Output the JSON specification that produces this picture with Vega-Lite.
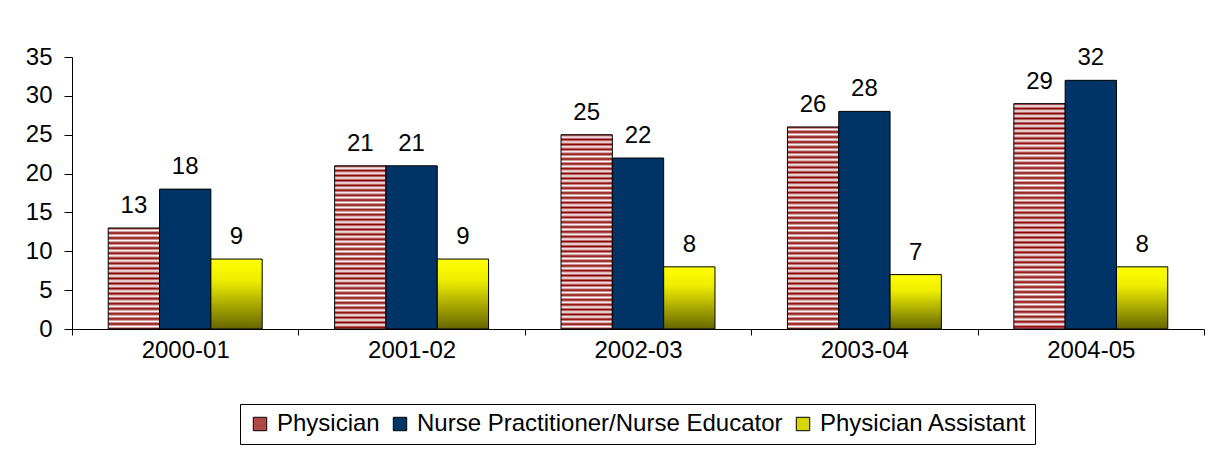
{
  "$schema": "https://vega.github.io/schema/vega-lite/v6.json",
  "width": 1132,
  "height": 272,
  "autosize": {"type": "none"},
  "padding": {"left": 72, "top": 57, "right": 21, "bottom": 121},
  "background": "white",
  "config": {
    "font": "Liberation Sans",
    "view": {"stroke": null},
    "axis": {"domainColor": "black", "tickColor": "black", "labelColor": "black", "labelFontSize": 24, "labelFont": "Liberation Sans", "grid": false, "title": null}
  },
  "data": {"values": [
    {"year": "2000-01", "series": "Physician", "value": 13},
    {"year": "2000-01", "series": "Nurse Practitioner/Nurse Educator", "value": 18},
    {"year": "2000-01", "series": "Physician Assistant", "value": 9},
    {"year": "2001-02", "series": "Physician", "value": 21},
    {"year": "2001-02", "series": "Nurse Practitioner/Nurse Educator", "value": 21},
    {"year": "2001-02", "series": "Physician Assistant", "value": 9},
    {"year": "2002-03", "series": "Physician", "value": 25},
    {"year": "2002-03", "series": "Nurse Practitioner/Nurse Educator", "value": 22},
    {"year": "2002-03", "series": "Physician Assistant", "value": 8},
    {"year": "2003-04", "series": "Physician", "value": 26},
    {"year": "2003-04", "series": "Nurse Practitioner/Nurse Educator", "value": 28},
    {"year": "2003-04", "series": "Physician Assistant", "value": 7},
    {"year": "2004-05", "series": "Physician", "value": 29},
    {"year": "2004-05", "series": "Nurse Practitioner/Nurse Educator", "value": 32},
    {"year": "2004-05", "series": "Physician Assistant", "value": 8}
  ]},
  "encoding": {
    "x": {"field": "year", "type": "nominal", "scale": {"paddingInner": 0, "paddingOuter": 0},
      "axis": {"labelAngle": 0, "tickSize": 6, "tickBand": "extent", "labelPadding": 3}},
    "xOffset": {"field": "series", "type": "nominal", "sort": ["Physician", "Nurse Practitioner/Nurse Educator", "Physician Assistant"], "scale": {"paddingInner": 0, "paddingOuter": 0.706}},
    "y": {"field": "value", "type": "quantitative", "scale": {"domain": [0, 35]},
      "axis": {"values": [0, 5, 10, 15, 20, 25, 30, 35], "tickSize": 8, "labelPadding": 12}}
  },
  "layer": [
    {
      "mark": {"type": "bar", "stroke": "black", "strokeWidth": 1},
      "encoding": {
        "fill": {
          "field": "series", "type": "nominal",
          "scale": {"domain": ["Physician", "Nurse Practitioner/Nurse Educator", "Physician Assistant"], "range": ["#b04848", "#003366", "#d6d600"]},
          "legend": {
            "orient": "none", "legendX": 168, "legendY": 347, "direction": "horizontal", "title": null,
            "strokeColor": "black", "padding": 8, "labelFontSize": 24, "labelFont": "Liberation Sans", "labelColor": "black", "labelLimit": 0,
            "symbolType": "square", "symbolSize": 180, "symbolStrokeColor": "black", "symbolStrokeWidth": 1,
            "columnPadding": 8, "labelOffset": 5
          },
          "condition": [
            {"test": "datum.series === 'Physician Assistant'", "value": {"gradient": "linear", "x1": 0, "y1": 0, "x2": 0, "y2": 1, "stops": [{"offset": 0, "color": "#ffff00"}, {"offset": 0.3, "color": "#eeee00"}, {"offset": 1, "color": "#666600"}]}},
            {"test": "datum.series === 'Physician' && datum.value < 16", "value": {"gradient": "linear", "x1": 0, "y1": 0, "x2": 0, "y2": 1, "stops": [{"offset":0,"color":"#800"},{"offset":0.025,"color":"#fff"},{"offset":0.05,"color":"#800"},{"offset":0.075,"color":"#fff"},{"offset":0.1,"color":"#800"},{"offset":0.125,"color":"#fff"},{"offset":0.15,"color":"#800"},{"offset":0.175,"color":"#fff"},{"offset":0.2,"color":"#800"},{"offset":0.225,"color":"#fff"},{"offset":0.25,"color":"#800"},{"offset":0.275,"color":"#fff"},{"offset":0.3,"color":"#800"},{"offset":0.325,"color":"#fff"},{"offset":0.35,"color":"#800"},{"offset":0.375,"color":"#fff"},{"offset":0.4,"color":"#800"},{"offset":0.425,"color":"#fff"},{"offset":0.45,"color":"#800"},{"offset":0.475,"color":"#fff"},{"offset":0.5,"color":"#800"},{"offset":0.525,"color":"#fff"},{"offset":0.55,"color":"#800"},{"offset":0.575,"color":"#fff"},{"offset":0.6,"color":"#800"},{"offset":0.625,"color":"#fff"},{"offset":0.65,"color":"#800"},{"offset":0.675,"color":"#fff"},{"offset":0.7,"color":"#800"},{"offset":0.725,"color":"#fff"},{"offset":0.75,"color":"#800"},{"offset":0.775,"color":"#fff"},{"offset":0.8,"color":"#800"},{"offset":0.825,"color":"#fff"},{"offset":0.85,"color":"#800"},{"offset":0.875,"color":"#fff"},{"offset":0.9,"color":"#800"},{"offset":0.925,"color":"#fff"},{"offset":0.95,"color":"#800"},{"offset":0.975,"color":"#fff"},{"offset":1,"color":"#800"}]}},
            {"test": "datum.series === 'Physician' && datum.value < 23", "value": {"gradient": "linear", "x1": 0, "y1": 0, "x2": 0, "y2": 1, "stops": [{"offset":0,"color":"#800"},{"offset":0.015,"color":"#fff"},{"offset":0.03,"color":"#800"},{"offset":0.045,"color":"#fff"},{"offset":0.06,"color":"#800"},{"offset":0.075,"color":"#fff"},{"offset":0.09,"color":"#800"},{"offset":0.105,"color":"#fff"},{"offset":0.12,"color":"#800"},{"offset":0.135,"color":"#fff"},{"offset":0.15,"color":"#800"},{"offset":0.165,"color":"#fff"},{"offset":0.18,"color":"#800"},{"offset":0.195,"color":"#fff"},{"offset":0.21,"color":"#800"},{"offset":0.225,"color":"#fff"},{"offset":0.24,"color":"#800"},{"offset":0.255,"color":"#fff"},{"offset":0.27,"color":"#800"},{"offset":0.285,"color":"#fff"},{"offset":0.3,"color":"#800"},{"offset":0.315,"color":"#fff"},{"offset":0.33,"color":"#800"},{"offset":0.345,"color":"#fff"},{"offset":0.36,"color":"#800"},{"offset":0.375,"color":"#fff"},{"offset":0.39,"color":"#800"},{"offset":0.405,"color":"#fff"},{"offset":0.42,"color":"#800"},{"offset":0.435,"color":"#fff"},{"offset":0.45,"color":"#800"},{"offset":0.465,"color":"#fff"},{"offset":0.48,"color":"#800"},{"offset":0.495,"color":"#fff"},{"offset":0.51,"color":"#800"},{"offset":0.525,"color":"#fff"},{"offset":0.54,"color":"#800"},{"offset":0.555,"color":"#fff"},{"offset":0.57,"color":"#800"},{"offset":0.585,"color":"#fff"},{"offset":0.6,"color":"#800"},{"offset":0.615,"color":"#fff"},{"offset":0.63,"color":"#800"},{"offset":0.645,"color":"#fff"},{"offset":0.66,"color":"#800"},{"offset":0.675,"color":"#fff"},{"offset":0.69,"color":"#800"},{"offset":0.705,"color":"#fff"},{"offset":0.72,"color":"#800"},{"offset":0.735,"color":"#fff"},{"offset":0.75,"color":"#800"},{"offset":0.765,"color":"#fff"},{"offset":0.78,"color":"#800"},{"offset":0.795,"color":"#fff"},{"offset":0.81,"color":"#800"},{"offset":0.825,"color":"#fff"},{"offset":0.84,"color":"#800"},{"offset":0.855,"color":"#fff"},{"offset":0.87,"color":"#800"},{"offset":0.885,"color":"#fff"},{"offset":0.9,"color":"#800"},{"offset":0.915,"color":"#fff"},{"offset":0.93,"color":"#800"},{"offset":0.945,"color":"#fff"},{"offset":0.96,"color":"#800"},{"offset":0.975,"color":"#fff"},{"offset":0.99,"color":"#800"},{"offset":1,"color":"#f88"}]}},
            {"test": "datum.series === 'Physician' && datum.value < 27", "value": {"gradient": "linear", "x1": 0, "y1": 0, "x2": 0, "y2": 1, "stops": [{"offset":0,"color":"#800"},{"offset":0.0125,"color":"#fff"},{"offset":0.025,"color":"#800"},{"offset":0.0375,"color":"#fff"},{"offset":0.05,"color":"#800"},{"offset":0.0625,"color":"#fff"},{"offset":0.075,"color":"#800"},{"offset":0.0875,"color":"#fff"},{"offset":0.1,"color":"#800"},{"offset":0.1125,"color":"#fff"},{"offset":0.125,"color":"#800"},{"offset":0.1375,"color":"#fff"},{"offset":0.15,"color":"#800"},{"offset":0.1625,"color":"#fff"},{"offset":0.175,"color":"#800"},{"offset":0.1875,"color":"#fff"},{"offset":0.2,"color":"#800"},{"offset":0.2125,"color":"#fff"},{"offset":0.225,"color":"#800"},{"offset":0.2375,"color":"#fff"},{"offset":0.25,"color":"#800"},{"offset":0.2625,"color":"#fff"},{"offset":0.275,"color":"#800"},{"offset":0.2875,"color":"#fff"},{"offset":0.3,"color":"#800"},{"offset":0.3125,"color":"#fff"},{"offset":0.325,"color":"#800"},{"offset":0.3375,"color":"#fff"},{"offset":0.35,"color":"#800"},{"offset":0.3625,"color":"#fff"},{"offset":0.375,"color":"#800"},{"offset":0.3875,"color":"#fff"},{"offset":0.4,"color":"#800"},{"offset":0.4125,"color":"#fff"},{"offset":0.425,"color":"#800"},{"offset":0.4375,"color":"#fff"},{"offset":0.45,"color":"#800"},{"offset":0.4625,"color":"#fff"},{"offset":0.475,"color":"#800"},{"offset":0.4875,"color":"#fff"},{"offset":0.5,"color":"#800"},{"offset":0.5125,"color":"#fff"},{"offset":0.525,"color":"#800"},{"offset":0.5375,"color":"#fff"},{"offset":0.55,"color":"#800"},{"offset":0.5625,"color":"#fff"},{"offset":0.575,"color":"#800"},{"offset":0.5875,"color":"#fff"},{"offset":0.6,"color":"#800"},{"offset":0.6125,"color":"#fff"},{"offset":0.625,"color":"#800"},{"offset":0.6375,"color":"#fff"},{"offset":0.65,"color":"#800"},{"offset":0.6625,"color":"#fff"},{"offset":0.675,"color":"#800"},{"offset":0.6875,"color":"#fff"},{"offset":0.7,"color":"#800"},{"offset":0.7125,"color":"#fff"},{"offset":0.725,"color":"#800"},{"offset":0.7375,"color":"#fff"},{"offset":0.75,"color":"#800"},{"offset":0.7625,"color":"#fff"},{"offset":0.775,"color":"#800"},{"offset":0.7875,"color":"#fff"},{"offset":0.8,"color":"#800"},{"offset":0.8125,"color":"#fff"},{"offset":0.825,"color":"#800"},{"offset":0.8375,"color":"#fff"},{"offset":0.85,"color":"#800"},{"offset":0.8625,"color":"#fff"},{"offset":0.875,"color":"#800"},{"offset":0.8875,"color":"#fff"},{"offset":0.9,"color":"#800"},{"offset":0.9125,"color":"#fff"},{"offset":0.925,"color":"#800"},{"offset":0.9375,"color":"#fff"},{"offset":0.95,"color":"#800"},{"offset":0.9625,"color":"#fff"},{"offset":0.975,"color":"#800"},{"offset":0.9875,"color":"#fff"},{"offset":1,"color":"#800"}]}},
            {"test": "datum.series === 'Physician'", "value": {"gradient": "linear", "x1": 0, "y1": 0, "x2": 0, "y2": 1, "stops": [{"offset":0,"color":"#800"},{"offset":0.011,"color":"#fff"},{"offset":0.022,"color":"#800"},{"offset":0.033,"color":"#fff"},{"offset":0.044,"color":"#800"},{"offset":0.055,"color":"#fff"},{"offset":0.066,"color":"#800"},{"offset":0.077,"color":"#fff"},{"offset":0.088,"color":"#800"},{"offset":0.099,"color":"#fff"},{"offset":0.11,"color":"#800"},{"offset":0.121,"color":"#fff"},{"offset":0.132,"color":"#800"},{"offset":0.143,"color":"#fff"},{"offset":0.154,"color":"#800"},{"offset":0.165,"color":"#fff"},{"offset":0.176,"color":"#800"},{"offset":0.187,"color":"#fff"},{"offset":0.198,"color":"#800"},{"offset":0.209,"color":"#fff"},{"offset":0.22,"color":"#800"},{"offset":0.231,"color":"#fff"},{"offset":0.242,"color":"#800"},{"offset":0.253,"color":"#fff"},{"offset":0.264,"color":"#800"},{"offset":0.275,"color":"#fff"},{"offset":0.286,"color":"#800"},{"offset":0.297,"color":"#fff"},{"offset":0.308,"color":"#800"},{"offset":0.319,"color":"#fff"},{"offset":0.33,"color":"#800"},{"offset":0.341,"color":"#fff"},{"offset":0.352,"color":"#800"},{"offset":0.363,"color":"#fff"},{"offset":0.374,"color":"#800"},{"offset":0.385,"color":"#fff"},{"offset":0.396,"color":"#800"},{"offset":0.407,"color":"#fff"},{"offset":0.418,"color":"#800"},{"offset":0.429,"color":"#fff"},{"offset":0.44,"color":"#800"},{"offset":0.451,"color":"#fff"},{"offset":0.462,"color":"#800"},{"offset":0.473,"color":"#fff"},{"offset":0.484,"color":"#800"},{"offset":0.495,"color":"#fff"},{"offset":0.506,"color":"#800"},{"offset":0.517,"color":"#fff"},{"offset":0.528,"color":"#800"},{"offset":0.539,"color":"#fff"},{"offset":0.55,"color":"#800"},{"offset":0.561,"color":"#fff"},{"offset":0.572,"color":"#800"},{"offset":0.583,"color":"#fff"},{"offset":0.594,"color":"#800"},{"offset":0.605,"color":"#fff"},{"offset":0.616,"color":"#800"},{"offset":0.627,"color":"#fff"},{"offset":0.638,"color":"#800"},{"offset":0.649,"color":"#fff"},{"offset":0.66,"color":"#800"},{"offset":0.671,"color":"#fff"},{"offset":0.682,"color":"#800"},{"offset":0.693,"color":"#fff"},{"offset":0.704,"color":"#800"},{"offset":0.715,"color":"#fff"},{"offset":0.726,"color":"#800"},{"offset":0.737,"color":"#fff"},{"offset":0.748,"color":"#800"},{"offset":0.759,"color":"#fff"},{"offset":0.77,"color":"#800"},{"offset":0.781,"color":"#fff"},{"offset":0.792,"color":"#800"},{"offset":0.803,"color":"#fff"},{"offset":0.814,"color":"#800"},{"offset":0.825,"color":"#fff"},{"offset":0.836,"color":"#800"},{"offset":0.847,"color":"#fff"},{"offset":0.858,"color":"#800"},{"offset":0.869,"color":"#fff"},{"offset":0.88,"color":"#800"},{"offset":0.891,"color":"#fff"},{"offset":0.902,"color":"#800"},{"offset":0.913,"color":"#fff"},{"offset":0.924,"color":"#800"},{"offset":0.935,"color":"#fff"},{"offset":0.946,"color":"#800"},{"offset":0.957,"color":"#fff"},{"offset":0.968,"color":"#800"},{"offset":0.979,"color":"#fff"},{"offset":0.99,"color":"#800"},{"offset":1,"color":"#f88"}]}}
          ]
        }
      }
    },
    {
      "mark": {"type": "text", "baseline": "alphabetic", "dy": -15, "fontSize": 24, "font": "Liberation Sans", "color": "black"},
      "encoding": {"text": {"field": "value", "type": "quantitative"}}
    }
  ]
}
